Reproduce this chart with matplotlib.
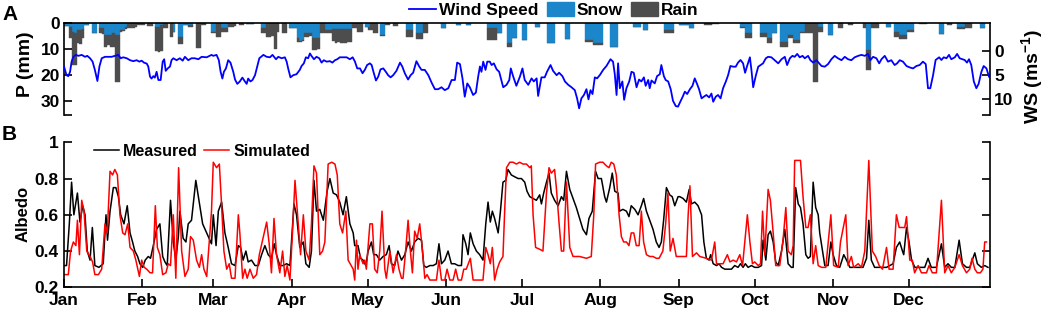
import matplotlib
matplotlib.use('Agg')
import matplotlib.pyplot as plt
from matplotlib.lines import Line2D
from matplotlib.patches import Patch

# ---------------- data (day of year, 0 = 1 Jan) ----------------
month_start = [0, 31, 59, 90, 120, 151, 181, 212, 243, 273, 304, 334]
month_label = ['Jan', 'Feb', 'Mar', 'Apr', 'May', 'Jun', 'Jul', 'Aug', 'Sep', 'Oct', 'Nov', 'Dec']

precip_day = [0, 1, 2, 3, 4, 5, 6, 7, 8, 9, 11, 12, 14, 15, 16, 17, 18, 19, 20, 21, 22, 23, 24, 25,
              26, 27, 28, 29, 30, 31, 33, 34, 36, 37, 38, 39, 40, 42, 43, 45, 46, 47, 48, 49, 50,
              52, 53, 54, 55, 58, 59, 60, 61, 62, 63, 64, 65, 66, 67, 69, 70, 72, 73, 74, 78, 79,
              80, 81, 82, 83, 84, 86, 87, 89, 90, 91, 92, 93, 94, 95, 96, 97, 98, 99, 100, 101, 102,
              103, 104, 105, 106, 107, 108, 109, 110, 111, 112, 113, 114, 115, 116, 117, 119, 120,
              121, 122, 123, 125, 126, 127, 128, 130, 131, 135, 136, 137, 139, 140, 141, 142, 143,
              149, 150, 155, 156, 159, 160, 167, 168, 169, 170, 171, 172, 175, 176, 177, 178, 181,
              182, 186, 187, 191, 192, 193, 198, 199, 206, 207, 208, 209, 210, 211, 212, 216, 217,
              218, 225, 226, 227, 229, 230, 237, 238, 239, 240, 243, 244, 245, 246, 247, 248, 253,
              254, 255, 256, 257, 258, 267, 268, 269, 270, 271, 275, 276, 277, 278, 279, 280, 281,
              283, 284, 285, 286, 287, 288, 289, 290, 291, 292, 293, 294, 295, 296, 297, 298, 299,
              302, 303, 306, 307, 310, 311, 316, 317, 318, 319, 320, 321, 325, 326, 328, 329, 330,
              331, 332, 333, 334, 335, 338, 339, 340, 346, 347, 349, 350, 353, 354, 355, 356, 357,
              358, 362, 363]
snow_mm = [1.2, 1.3, 1.5, 3.5, 4.0, 3.0, 3.0, 2.5, 1.0, 1.0, 4.1, 4.0, 2.2, 2.2, 4.7, 4.7, 4.7, 4.0,
           4.7, 4.7, 3.0, 2.8, 1.5, 0.5, 0, 0, 0, 0, 0, 0, 0, 0, 1.5, 1.5, 1.0, 0, 0, 0, 3.5, 5.4,
           5.4, 0.9, 0.9, 1.0, 1.0, 0, 0, 0, 0, 3.5, 3.5, 0, 0, 2.2, 2.2, 2.0, 0, 0, 0, 0, 0, 0.5,
           0.5, 0.5, 2.2, 2.2, 0, 0, 0, 0, 0, 0, 0, 2.2, 2.2, 2.2, 6.0, 7.0, 6.5, 4.1, 4.1, 4.0,
           6.0, 6.0, 6.0, 0, 0, 2.8, 2.8, 2.8, 2.6, 2.6, 2.6, 2.6, 2.6, 2.6, 2.6, 2.6, 0, 0, 0, 0,
           1.5, 1.5, 0, 0, 0, 4.7, 4.7, 0, 0, 0, 0, 2.8, 2.8, 2.8, 4.1, 4.1, 4.1, 0, 0, 2.2, 2.2,
           0.9, 0.9, 0.9, 0.9, 2.2, 2.2, 2.2, 2.2, 4.1, 4.1, 8.0, 8.0, 6.0, 6.0, 6.7, 6.7, 1.5, 1.5,
           8.0, 8.0, 8.0, 6.4, 6.4, 6.7, 6.7, 6.7, 8.0, 8.0, 8.0, 8.0, 9.2, 9.2, 9.2, 1.5, 1.5,
           1.5, 2.8, 2.8, 2.8, 2.8, 2.8, 2.8, 0.9, 0.9, 0.9, 0.9, 2.2, 2.2, 0, 0, 0, 0, 0, 0, 1.5,
           1.5, 4.1, 4.1, 4.1, 4.1, 4.1, 4.1, 6.0, 6.0, 4.1, 4.1, 7.3, 7.3, 7.3, 4.7, 4.7, 6.7,
           6.7, 6.7, 3.5, 3.5, 0, 0, 0, 0, 0, 1.5, 1.5, 4.7, 4.7, 0, 0, 0, 0, 0, 10.5, 10.5, 0, 0,
           0, 1.5, 1.5, 3.5, 3.5, 4.7, 4.7, 4.7, 2.8, 2.8, 2.8, 0, 0, 0, 4.4, 4.4, 0, 0, 1.5, 1.5,
           1.5, 0, 0, 0, 2.2, 2.2]
rain_mm = [0, 0, 4.5, 12.8, 12.3, 5.0, 5.2, 3.5, 0, 0, 0, 0, 1.8, 2.0, 4.5, 4.0, 4.5, 5.2, 18.0,
           18.0, 0.6, 0.5, 1.0, 1.5, 2.0, 2.0, 1.8, 1.0, 1.0, 0.8, 1.3, 1.3, 9.5, 9.7, 10.0, 2.2,
           2.2, 5.4, 0, 2.8, 2.8, 0, 0, 0.5, 0.5, 9.9, 9.9, 0.9, 0.9, 0.6, 0.6, 5.4, 5.4, 1.3, 1.3,
           1.5, 1.5, 1.5, 1.3, 0.9, 0.9, 0, 0, 0, 1.9, 1.9, 5.4, 5.4, 5.0, 10.3, 3.5, 4.1, 4.1, 0,
           0, 0, 1.3, 0.5, 0.5, 1.3, 1.3, 1.0, 4.5, 4.5, 4.0, 4.1, 4.1, 1.3, 1.3, 1.0, 4.5, 5.4,
           5.0, 5.4, 5.4, 5.4, 5.0, 4.8, 2.2, 2.2, 3.5, 3.5, 0, 1.3, 2.8, 4.1, 4.1, 0.4, 0.4, 0.9,
           0.9, 1.3, 1.3, 2.6, 2.6, 2.6, 2.3, 2.3, 2.3, 4.1, 4.1, 0, 0, 0, 0, 0, 0, 4.5, 4.5, 4.5,
           4.5, 0, 0, 1.2, 1.2, 0, 0, 0, 0, 0, 0, 0, 0, 0, 0, 0, 0.6, 0.6, 0.6, 0.6, 0.6, 0.6, 0.6,
           0, 0, 0, 0, 0, 0, 0, 0, 1.3, 1.3, 1.3, 1.3, 0, 0, 0, 0, 0, 0, 0.9, 0.9, 0.9, 0.6, 0.6,
           0.6, 0.7, 0.7, 1.9, 1.9, 1.9, 1.3, 1.3, 1.3, 1.7, 1.7, 0, 0, 1.9, 1.9, 1.9, 1.3, 1.3,
           1.3, 1.3, 1.3, 0.6, 0.6, 4.1, 4.1, 4.1, 22.7, 22.7, 2.0, 2.0, 0, 0, 2.2, 2.2, 0.9, 0.9,
           2.2, 7.7, 7.7, 2.2, 2.2, 2.2, 0, 0, 1.9, 1.9, 1.7, 1.7, 1.7, 0.7, 0.7, 0.7, 0.5, 0.5,
           0.5, 0, 0, 0.9, 0.9, 1.0, 1.0, 1.0, 2.2, 2.2, 2.2, 0, 0]

ws_day = [0, 1.0, 1.7, 2.4, 3.0, 3.7, 4.7, 5.7, 7.0, 8.3, 9.2, 10.3, 11.3, 12.2, 13.2, 14.0, 14.9,
          16.2, 17.5, 18.8, 20.1, 21.5, 22.4, 23.4, 24.8, 26.1, 27.4, 28.7, 29.8, 30.7, 31.6,
          32.7, 33.3, 34.0, 34.6, 35.3, 35.9, 36.6, 37.3, 38.2, 39.0, 39.6, 40.2, 41.0, 41.9,
          42.5, 43.2, 44.5, 45.8, 46.9, 47.8, 49.1, 50.4, 51.7, 53.1, 54.4, 56.4, 58.3, 59.0,
          60.3, 61.2, 61.9, 62.6, 63.2, 64.0, 64.9, 65.8, 66.9, 67.6, 68.5, 69.5, 70.5, 71.5,
          72.2, 72.8, 73.7, 74.5, 75.5, 76.4, 77.2, 78.8, 80.1, 81.4, 82.4, 83.8, 84.7, 86.0,
          87.3, 88.0, 88.6, 89.5, 90.6, 91.9, 93.2, 93.9, 94.8, 95.6, 96.5, 97.2, 97.8, 98.8,
          99.8, 100.9, 101.8, 102.7, 103.8, 105.1, 106.1, 107.1, 108.0, 109.0, 110.4, 111.7,
          113.0, 114.1, 115.0, 115.9, 117.0, 118.0, 118.9, 119.8, 120.9, 121.6, 122.2, 123.3,
          124.2, 125.1, 126.2, 127.2, 128.1, 129.1, 130.1, 131.4, 132.8, 133.7, 134.7, 136.0,
          137.0, 138.0, 139.3, 140.4, 141.3, 142.6, 144.0, 145.3, 146.6, 147.9, 149.2, 150.5,
          151.9, 153.2, 154.5, 155.4, 156.5, 157.5, 158.4, 159.4, 160.4, 161.7, 162.8, 163.7,
          164.4, 165.0, 165.7, 166.6, 167.3, 168.3, 169.0, 169.9, 171.0, 172.0, 173.6, 174.9,
          176.0, 176.6, 177.5, 178.8, 180.2, 181.2, 182.1, 183.5, 184.8, 185.7, 186.8, 187.4,
          188.7, 190.0, 190.9, 192.3, 193.3, 194.7, 195.7, 197.0, 198.0, 199.3, 200.6, 201.9,
          202.8, 203.6, 204.5, 205.5, 206.5, 207.3, 208.1, 208.9, 209.8, 210.7, 211.8, 213.1,
          214.4, 216.0, 217.0, 217.7, 218.4, 219.0, 219.7, 220.7, 221.4, 222.3, 223.4, 224.3,
          225.2, 226.3, 227.3, 228.2, 229.2, 229.9, 230.9, 231.5, 232.2, 233.5, 234.4, 235.5,
          236.1, 237.1, 237.8, 238.8, 239.8, 240.7, 241.8, 242.7, 243.4, 244.5, 245.4, 246.3,
          247.4, 248.4, 249.3, 250.2, 251.0, 252.0, 252.9, 253.9, 255.0, 255.9, 256.6, 257.6,
          258.5, 259.5, 260.5, 261.6, 262.5, 263.4, 264.5, 265.5, 266.4, 267.4, 268.4, 269.2,
          270.0, 271.1, 271.7, 272.4, 273.4, 274.4, 275.3, 276.3, 277.4, 278.3, 279.6, 280.9,
          282.3, 283.6, 284.9, 285.8, 286.9, 287.9, 288.8, 289.8, 290.8, 291.9, 292.8, 294.1,
          295.0, 296.1, 297.4, 298.5, 299.4, 300.7, 302.0, 303.3, 304.6, 305.9, 307.3, 308.6,
          309.9, 311.2, 312.5, 313.9, 315.2, 316.5, 317.8, 318.7, 319.8, 321.1, 322.2, 323.1,
          324.4, 325.7, 327.0, 328.3, 329.3, 330.3, 331.6, 333.0, 334.3, 335.6, 336.9, 338.2,
          339.5, 340.6, 341.5, 342.4, 343.5, 344.5, 345.9, 346.8, 347.7, 348.8, 349.8, 350.7,
          352.1, 353.0, 354.0, 355.1, 356.0, 356.9, 357.7, 358.6, 359.6, 360.6, 361.5, 362.6,
          363.5, 364.6, 365.6]
ws_val = [3.2, 5.0, 5.2, 4.3, 2.2, 1.2, 0.8, 1.0, 0.8, 1.2, 1.0, 1.5, 2.2, 3.9, 6.2, 3.2, 1.5, 1.2,
          1.2, 1.2, 1.0, 0.8, 1.5, 1.3, 1.5, 1.9, 2.1, 1.9, 2.2, 2.0, 2.4, 2.6, 3.2, 5.3, 5.7,
          5.2, 5.5, 4.3, 6.0, 6.0, 2.2, 1.7, 4.1, 3.6, 3.2, 1.9, 1.5, 1.9, 1.5, 2.0, 1.2, 1.9,
          1.5, 1.5, 1.7, 1.2, 1.3, 0.8, 1.0, 0.8, 1.9, 4.3, 5.7, 4.3, 3.6, 1.9, 2.4, 4.3, 5.9,
          6.8, 6.3, 5.5, 6.3, 6.8, 5.7, 6.3, 6.0, 5.0, 3.1, 1.5, 0.8, 1.2, 1.3, 0.8, 1.7, 1.2,
          1.5, 1.3, 2.2, 3.6, 5.45, 5.0, 4.8, 3.9, 3.1, 2.55, 1.3, 1.5, 0.5, 1.0, 1.7, 1.2, 1.5,
          2.4, 1.9, 2.2, 2.1, 2.4, 1.9, 1.7, 1.3, 1.3, 1.3, 1.7, 1.3, 2.2, 3.6, 3.6, 4.6, 3.9,
          2.9, 2.55, 2.9, 4.1, 6.1, 5.3, 3.8, 3.6, 4.3, 5.0, 5.45, 5.0, 4.1, 2.4, 3.2, 4.6, 5.9,
          5.0, 4.5, 2.1, 3.2, 3.9, 3.9, 5.0, 6.55, 7.9, 7.9, 7.5, 8.1, 7.7, 6.0, 6.0, 2.4, 2.7,
          5.66, 9.45, 6.7, 7.5, 9.1, 8.6, 5.3, 3.2, 4.3, 2.2, 3.9, 2.2, 2.2, 2.9, 2.55, 3.8, 4.3,
          7.5, 7.0, 6.0, 3.6, 5.2, 7.2, 5.3, 3.6, 6.0, 7.0, 5.66, 6.3, 5.66, 9.3, 5.45, 5.45,
          4.3, 2.9, 4.1, 5.0, 4.5, 5.2, 6.3, 7.0, 7.5, 8.1, 9.8, 11.86, 9.8, 9.1, 7.9, 10.0, 8.1,
          8.9, 5.45, 5.66, 4.97, 3.9, 3.1, 1.7, 2.2, 4.8, 9.1, 2.55, 7.7, 6.3, 10.1, 7.7, 6.3,
          4.3, 4.5, 7.5, 5.9, 6.3, 5.45, 7.2, 6.0, 7.7, 6.1, 6.7, 5.2, 4.8, 2.9, 5.2, 6.0, 6.3,
          7.9, 10.3, 11.4, 11.5, 10.7, 9.5, 8.4, 8.9, 7.9, 7.2, 5.66, 6.8, 7.9, 9.8, 9.45, 9.1,
          9.6, 8.8, 10.5, 9.45, 9.1, 9.8, 7.7, 6.3, 4.97, 3.1, 3.24, 3.24, 2.4, 1.86, 2.55, 4.5,
          3.1, 1.3, 3.9, 7.5, 5.17, 3.24, 2.9, 2.55, 1.5, 1.2, 1.3, 1.9, 2.55, 1.7, 1.2, 2.9,
          1.5, 1.0, 1.2, 0.6, 1.3, 1.0, 1.5, 1.0, 1.9, 2.4, 1.9, 2.55, 3.1, 3.24, 2.7, 1.7, 1.0,
          1.5, 1.9, 1.2, 1.7, 1.9, 1.3, 1.0, 0.8, 1.0, 0.6, 1.9, 1.2, 1.5, 2.55, 1.7, 1.0, 2.2,
          1.9, 2.9, 2.55, 1.9, 2.2, 3.1, 3.4, 3.6, 3.1, 2.9, 2.2, 2.7, 7.7, 7.7, 5.0, 1.86, 1.3,
          1.86, 1.3, 1.5, 0.8, 1.7, 1.3, 0.6, 1.5, 1.7, 1.86, 2.4, 1.7, 2.9, 6.3, 7.7, 6.8, 4.3,
          3.1, 3.6, 5.3]

meas_day = [0, 1.0, 2.1, 3.0, 3.9, 5.3, 6.3, 7.4, 8.3, 9.2, 10.3, 11.2, 12.2, 13.8, 15.5, 16.6,
            17.2, 18.2, 19.5, 20.5, 21.5, 22.4, 23.7, 25.0, 26.1, 27.1, 28.0, 29.1, 30.0, 31.1,
            32.1, 33.3, 34.2, 35.3, 36.6, 37.9, 39.0, 39.9, 40.8, 42.1, 43.2, 44.2, 45.2, 45.8,
            47.1, 48.2, 49.1, 50.4, 52.1, 53.7, 54.8, 56.4, 58.3, 59.0, 60.1, 61.0, 62.3, 63.6,
            64.9, 66.2, 67.6, 68.9, 69.8, 70.8, 71.9, 72.8, 74.1, 75.5, 76.8, 78.1, 79.4, 80.7,
            82.0, 83.1, 84.0, 85.3, 86.6, 88.0, 89.3, 90.9, 91.9, 93.2, 94.6, 95.6, 96.9, 97.8,
            98.8, 99.8, 101.1, 102.5, 104.0, 105.1, 106.4, 107.7, 109.0, 110.3, 111.6, 113.0,
            114.3, 114.9, 116.2, 117.2, 118.2, 119.3, 120.2, 121.5, 122.4, 123.5, 124.8, 126.1,
            127.4, 128.5, 129.4, 130.7, 132.0, 133.4, 134.7, 136.0, 137.3, 138.6, 139.9, 141.3,
            142.2, 143.2, 144.6, 145.9, 147.2, 148.2, 149.2, 150.5, 151.8, 153.1, 154.4, 155.8,
            157.1, 157.7, 158.8, 159.7, 160.6, 161.7, 163.0, 164.3, 165.6, 166.7, 167.6, 168.5,
            169.3, 170.2, 171.6, 172.5, 173.5, 174.6, 175.5, 176.8, 178.1, 179.5, 180.8, 182.1,
            183.0, 184.1, 185.4, 186.7, 188.0, 188.7, 189.6, 190.7, 191.7, 192.6, 193.9, 195.3,
            196.6, 197.5, 198.6, 199.9, 201.2, 202.5, 203.8, 205.1, 206.5, 207.5, 208.8, 210.1,
            211.1, 212.4, 213.7, 214.4, 215.7, 216.7, 217.7, 219.0, 219.6, 220.9, 222.3, 223.3,
            224.2, 225.6, 226.9, 228.2, 229.1, 230.2, 231.5, 232.8, 234.1, 235.2, 236.1, 237.0,
            238.1, 239.4, 240.4, 241.4, 242.7, 243.4, 244.7, 246.0, 247.1, 248.0, 249.3, 250.6,
            252.0, 252.9, 253.9, 255.0, 255.6, 256.6, 257.9, 258.9, 259.9, 261.2, 262.5, 263.8,
            265.1, 266.4, 267.4, 268.4, 269.3, 270.4, 271.7, 273.0, 274.4, 275.7, 276.3, 277.4,
            278.3, 279.2, 280.3, 281.3, 282.3, 283.6, 284.9, 286.2, 287.5, 288.2, 289.2, 290.2,
            291.1, 292.1, 293.2, 294.1, 295.0, 296.1, 297.1, 298.1, 298.7, 299.8, 300.7, 302.0,
            303.1, 304.0, 305.3, 306.6, 308.2, 309.3, 310.6, 311.9, 313.9, 315.8, 317.2, 318.1,
            319.1, 320.4, 322.4, 325.1, 327.7, 329.0, 330.3, 331.4, 331.9, 333.0, 334.0, 335.0,
            336.3, 338.2, 340.2, 341.5, 342.8, 344.8, 346.8, 348.1, 349.4, 350.7, 352.1, 353.8,
            355.1, 356.7, 358.0, 360.0, 361.0, 362.6, 363.9, 365.2]
meas_alb = [0.32, 0.32, 0.55, 0.78, 0.6, 0.72, 0.56, 0.65, 0.6, 0.4, 0.35, 0.53, 0.32, 0.31, 0.33,
            0.6, 0.46, 0.62, 0.75, 0.75, 0.7, 0.6, 0.55, 0.65, 0.5, 0.45, 0.4, 0.37, 0.33, 0.31,
            0.35, 0.37, 0.36, 0.43, 0.52, 0.55, 0.37, 0.34, 0.32, 0.68, 0.45, 0.35, 0.48, 0.62,
            0.47, 0.45, 0.55, 0.57, 0.79, 0.65, 0.55, 0.5, 0.44, 0.6, 0.43, 0.62, 0.67, 0.5, 0.42,
            0.33, 0.32, 0.43, 0.42, 0.35, 0.4, 0.34, 0.35, 0.32, 0.32, 0.38, 0.43, 0.38, 0.36,
            0.44, 0.38, 0.32, 0.32, 0.33, 0.32, 0.66, 0.6, 0.42, 0.45, 0.33, 0.31, 0.4, 0.79,
            0.62, 0.63, 0.57, 0.73, 0.8, 0.72, 0.71, 0.67, 0.6, 0.7, 0.55, 0.5, 0.43, 0.43, 0.36,
            0.35, 0.32, 0.4, 0.45, 0.38, 0.38, 0.35, 0.37, 0.38, 0.43, 0.33, 0.32, 0.4, 0.35,
            0.38, 0.45, 0.4, 0.45, 0.47, 0.46, 0.32, 0.31, 0.32, 0.32, 0.33, 0.44, 0.33, 0.35,
            0.4, 0.33, 0.33, 0.32, 0.32, 0.49, 0.44, 0.38, 0.5, 0.44, 0.4, 0.38, 0.35, 0.55, 0.67,
            0.56, 0.62, 0.58, 0.5, 0.62, 0.78, 0.79, 0.85, 0.82, 0.81, 0.8, 0.8, 0.78, 0.73, 0.7,
            0.69, 0.68, 0.71, 0.66, 0.72, 0.78, 0.83, 0.72, 0.68, 0.65, 0.7, 0.68, 0.84, 0.74,
            0.69, 0.64, 0.58, 0.52, 0.49, 0.58, 0.62, 0.84, 0.8, 0.8, 0.7, 0.67, 0.75, 0.83, 0.73,
            0.72, 0.62, 0.63, 0.62, 0.59, 0.65, 0.63, 0.6, 0.65, 0.69, 0.62, 0.57, 0.52, 0.45,
            0.42, 0.45, 0.57, 0.75, 0.71, 0.7, 0.65, 0.7, 0.7, 0.69, 0.67, 0.74, 0.66, 0.67, 0.65,
            0.6, 0.45, 0.36, 0.35, 0.38, 0.33, 0.32, 0.33, 0.31, 0.3, 0.3, 0.3, 0.32, 0.31, 0.33,
            0.31, 0.33, 0.31, 0.32, 0.31, 0.31, 0.32, 0.46, 0.35, 0.49, 0.51, 0.45, 0.34, 0.32,
            0.4, 0.52, 0.33, 0.31, 0.31, 0.75, 0.66, 0.64, 0.55, 0.38, 0.36, 0.37, 0.78, 0.64,
            0.6, 0.5, 0.4, 0.32, 0.32, 0.45, 0.38, 0.32, 0.31, 0.38, 0.35, 0.31, 0.31, 0.31, 0.31,
            0.36, 0.57, 0.35, 0.31, 0.31, 0.31, 0.33, 0.42, 0.45, 0.4, 0.38, 0.53, 0.45, 0.35,
            0.31, 0.31, 0.31, 0.36, 0.31, 0.31, 0.44, 0.31, 0.33, 0.31, 0.31, 0.46, 0.33, 0.31,
            0.31, 0.39, 0.33, 0.31, 0.32, 0.31]

sim_day = [0, 1.7, 2.6, 3.7, 4.7, 5.3, 6.1, 7.0, 7.9, 9.0, 10.3, 11.3, 12.2, 13.6, 14.9, 16.2,
           17.1, 18.2, 19.2, 20.1, 21.1, 22.1, 23.2, 24.1, 25.2, 26.1, 27.4, 28.4, 29.8, 30.7,
           31.7, 32.7, 34.0, 35.0, 36.1, 36.9, 37.9, 39.0, 40.3, 41.2, 42.1, 43.2, 44.2, 45.3,
           46.5, 47.8, 49.1, 50.0, 51.1, 52.4, 53.5, 54.4, 55.3, 56.4, 57.4, 58.3, 59.0, 60.3,
           61.4, 62.3, 63.2, 64.3, 65.3, 66.2, 67.6, 68.9, 69.5, 70.6, 71.5, 72.4, 73.5, 74.8,
           76.1, 77.2, 78.8, 80.1, 81.1, 82.0, 83.0, 84.0, 85.3, 86.4, 87.3, 88.2, 89.3, 90.3,
           91.3, 92.6, 93.5, 94.6, 95.6, 96.9, 97.8, 98.8, 99.8, 101.1, 102.2, 103.1, 104.4,
           105.8, 107.1, 108.0, 109.0, 110.1, 111.4, 112.3, 114.3, 114.9, 115.6, 116.2, 116.9,
           118.2, 118.9, 119.5, 120.9, 121.9, 122.8, 123.8, 124.8, 125.7, 126.8, 127.4, 128.8,
           130.1, 131.4, 132.4, 133.4, 134.0, 134.9, 136.0, 136.9, 137.7, 138.6, 139.6, 140.6,
           141.7, 142.6, 143.5, 144.6, 147.2, 148.2, 149.2, 150.5, 151.4, 152.5, 153.8, 154.8,
           155.8, 157.1, 158.0, 159.0, 160.6, 161.7, 165.6, 166.7, 167.6, 168.5, 169.3, 170.2,
           171.2, 172.2, 173.5, 174.2, 174.9, 176.2, 177.5, 178.8, 180.1, 181.4, 182.8, 184.1,
           184.7, 185.4, 186.4, 188.0, 189.3, 190.7, 191.7, 192.6, 193.9, 194.6, 195.7, 196.6,
           197.5, 198.6, 199.9, 201.2, 203.8, 206.5, 208.4, 209.4, 210.1, 211.7, 213.0, 214.4,
           215.4, 216.3, 217.3, 218.3, 219.4, 220.3, 221.2, 222.3, 223.3, 224.2, 225.2, 226.2,
           227.3, 228.2, 229.1, 230.2, 231.5, 232.8, 234.1, 235.2, 236.7, 237.8, 238.7, 239.6,
           240.7, 242.0, 243.4, 246.0, 246.7, 247.4, 248.4, 250.0, 251.3, 253.9, 255.9, 257.2,
           257.9, 260.5, 262.2, 263.2, 264.5, 265.8, 267.1, 268.2, 269.1, 270.1, 271.1, 272.1,
           273.0, 274.4, 275.3, 276.1, 277.0, 278.3, 279.2, 280.3, 281.3, 282.9, 284.2, 285.3,
           286.2, 287.5, 288.2, 288.8, 290.2, 291.1, 292.1, 293.2, 294.1, 295.0, 296.1, 297.1,
           298.1, 299.4, 301.1, 303.1, 304.2, 306.0, 306.9, 309.0, 309.9, 311.2, 312.1, 313.9,
           315.2, 316.5, 318.1, 319.5, 320.8, 322.2, 323.5, 325.1, 326.1, 327.7, 329.0, 330.1,
           331.4, 332.3, 333.0, 334.3, 335.3, 336.2, 337.6, 338.9, 340.9, 341.9, 343.2, 344.8,
           346.8, 348.1, 349.4, 350.7, 352.1, 353.8, 355.1, 356.7, 358.0, 358.9, 360.0, 361.0,
           362.2, 363.2, 363.9, 364.6]
sim_alb = [0.27, 0.27, 0.4, 0.45, 0.43, 0.57, 0.38, 0.68, 0.62, 0.4, 0.37, 0.34, 0.27, 0.27, 0.3,
           0.55, 0.5, 0.84, 0.82, 0.85, 0.82, 0.6, 0.5, 0.49, 0.55, 0.42, 0.4, 0.35, 0.26, 0.35,
           0.31, 0.3, 0.28, 0.28, 0.65, 0.42, 0.38, 0.27, 0.28, 0.33, 0.32, 0.6, 0.25, 0.86, 0.4,
           0.26, 0.3, 0.48, 0.46, 0.35, 0.31, 0.38, 0.3, 0.26, 0.45, 0.62, 0.89, 0.86, 0.88, 0.65,
           0.4, 0.3, 0.33, 0.25, 0.25, 0.6, 0.5, 0.25, 0.3, 0.25, 0.3, 0.25, 0.27, 0.38, 0.48,
           0.56, 0.44, 0.28, 0.58, 0.38, 0.28, 0.4, 0.26, 0.32, 0.24, 0.5, 0.79, 0.55, 0.38, 0.6,
           0.4, 0.35, 0.55, 0.87, 0.83, 0.38, 0.4, 0.45, 0.88, 0.89, 0.88, 0.82, 0.55, 0.5, 0.62,
           0.35, 0.3, 0.24, 0.46, 0.3, 0.38, 0.33, 0.35, 0.3, 0.55, 0.55, 0.3, 0.28, 0.4, 0.62,
           0.3, 0.25, 0.4, 0.28, 0.38, 0.3, 0.25, 0.25, 0.38, 0.57, 0.4, 0.28, 0.51, 0.47, 0.55,
           0.4, 0.25, 0.27, 0.24, 0.24, 0.35, 0.24, 0.24, 0.3, 0.24, 0.24, 0.3, 0.24, 0.24, 0.3,
           0.3, 0.36, 0.24, 0.24, 0.42, 0.38, 0.33, 0.42, 0.24, 0.3, 0.34, 0.37, 0.63, 0.86, 0.89,
           0.89, 0.88, 0.89, 0.88, 0.88, 0.86, 0.87, 0.6, 0.42, 0.41, 0.4, 0.72, 0.86, 0.83, 0.85,
           0.75, 0.55, 0.4, 0.4, 0.78, 0.42, 0.37, 0.37, 0.36, 0.37, 0.6, 0.88, 0.89, 0.89, 0.87,
           0.86, 0.89, 0.88, 0.82, 0.6, 0.48, 0.45, 0.45, 0.43, 0.5, 0.5, 0.43, 0.43, 0.62, 0.45,
           0.38, 0.37, 0.37, 0.36, 0.36, 0.4, 0.55, 0.72, 0.4, 0.47, 0.37, 0.37, 0.37, 0.6, 0.76,
           0.37, 0.39, 0.37, 0.36, 0.35, 0.45, 0.33, 0.33, 0.38, 0.34, 0.35, 0.34, 0.38, 0.32,
           0.45, 0.6, 0.45, 0.33, 0.34, 0.32, 0.33, 0.62, 0.38, 0.74, 0.68, 0.5, 0.32, 0.32, 0.46,
           0.64, 0.4, 0.38, 0.43, 0.9, 0.9, 0.9, 0.7, 0.53, 0.53, 0.6, 0.33, 0.43, 0.32, 0.31,
           0.31, 0.6, 0.32, 0.31, 0.45, 0.6, 0.32, 0.37, 0.31, 0.33, 0.31, 0.4, 0.9, 0.4, 0.37,
           0.32, 0.3, 0.42, 0.3, 0.3, 0.6, 0.53, 0.53, 0.53, 0.59, 0.35, 0.35, 0.28, 0.32, 0.28,
           0.28, 0.32, 0.28, 0.28, 0.68, 0.28, 0.32, 0.28, 0.31, 0.38, 0.32, 0.28, 0.3, 0.36, 0.3,
           0.28, 0.28, 0.3, 0.45, 0.45]

# ---------------- style ----------------
plt.rcParams['font.family'] = ['Liberation Sans', 'DejaVu Sans']
plt.rcParams['font.weight'] = 'bold'
plt.rcParams['axes.labelweight'] = 'bold'
plt.rcParams['mathtext.fontset'] = 'custom'
plt.rcParams['mathtext.rm'] = 'Liberation Sans:bold'
plt.rcParams['mathtext.it'] = 'Liberation Sans:bold'
plt.rcParams['mathtext.bf'] = 'Liberation Sans:bold'

SNOW = '#1B86C9'
RAIN = '#4D4D4D'
WIND = '#0000FF'
TICK_FS = 12.5
SPINE_W = 1.2

W, H = 1045, 315
fig = plt.figure(figsize=(W / 100, H / 100), dpi=100)


def rect(l, t, r, b):
    return [l / W, 1 - b / H, (r - l) / W, (b - t) / H]


# ---------------- panel A ----------------
axA = fig.add_axes(rect(64, 22.7, 990, 115))
axA.bar(precip_day, snow_mm, width=1.0, align='edge', color=SNOW, edgecolor=SNOW, linewidth=0.3)
axA.bar(precip_day, rain_mm, width=1.0, align='edge', bottom=snow_mm, color=RAIN,
        edgecolor=RAIN, linewidth=0.3)
axA.set_xlim(0, 366)
axA.set_ylim(35.56, 0)
axA.set_yticks([0, 10, 20, 30])
axA.set_yticks([35.56], minor=True)
axA.set_xticks([])
axA.spines['bottom'].set_visible(False)
axA.spines['right'].set_visible(False)
for s in ['top', 'left']:
    axA.spines[s].set_linewidth(SPINE_W)
axA.tick_params(axis='y', which='both', direction='in', length=6, width=SPINE_W,
                labelsize=TICK_FS, pad=3)

axW = axA.twinx()
axW.plot(ws_day, ws_val, color=WIND, lw=1.3)
axW.set_ylim(13.24, -5.86)
axW.set_yticks([0, 5, 10])
axW.set_yticks([13.24], minor=True)
axW.set_xlim(0, 366)
axW.spines['bottom'].set_visible(False)
axW.spines['left'].set_visible(False)
axW.spines['top'].set_visible(False)
axW.spines['right'].set_linewidth(SPINE_W)
axW.tick_params(axis='y', which='both', direction='in', length=6, width=SPINE_W,
                labelsize=TICK_FS, pad=3)

handlesA = [Line2D([], [], color=WIND, lw=1.3),
            Patch(facecolor=SNOW, edgecolor=SNOW),
            Patch(facecolor=RAIN, edgecolor=RAIN)]
fig.legend(handlesA, ['Wind Speed', 'Snow', 'Rain'], loc='center',
           bbox_to_anchor=(554 / W, 1 - 10 / H), ncol=3, frameon=False,
           prop={'weight': 'bold', 'size': 12.5}, handlelength=1.55, handleheight=0.9,
           handletextpad=0.2, columnspacing=0.45, borderpad=0, borderaxespad=0)

# ---------------- panel B ----------------
axB = fig.add_axes(rect(64, 142.3, 990, 287.3))
axB.plot(meas_day, meas_alb, color='black', lw=1.1, label='Measured')
axB.plot(sim_day, sim_alb, color='#FF0000', lw=1.1, label='Simulated')
axB.set_xlim(0, 366)
axB.set_ylim(0.2, 1)
axB.set_yticks([0.2, 0.4, 0.6, 0.8, 1.0])
axB.set_yticklabels(['0.2', '0.4', '0.6', '0.8', '1'])
axB.set_xticks(month_start)
axB.set_xticklabels(month_label)
axB.spines['top'].set_visible(False)
for s in ['bottom', 'left', 'right']:
    axB.spines[s].set_linewidth(SPINE_W)
axB.tick_params(axis='both', direction='in', length=6, width=SPINE_W, labelsize=TICK_FS, pad=4)
axB.tick_params(axis='y', right=True, labelright=False)
axB.legend(loc='center', bbox_to_anchor=(202 / W, 1 - 151 / H), bbox_transform=fig.transFigure,
           ncol=2, frameon=False, prop={'weight': 'bold', 'size': 11.5}, handlelength=1.6,
           handletextpad=0.25, columnspacing=0.35, borderpad=0, borderaxespad=0)

# ---------------- labels ----------------
fig.text(25 / W, 1 - 64 / H, 'P (mm)', rotation=90, ha='center', va='center',
         fontsize=14, fontweight='bold')
fig.text(1032 / W, 1 - 76 / H, 'WS (ms$^{-1}$)', rotation=90, ha='center', va='center',
         fontsize=14, fontweight='bold')
fig.text(23 / W, 1 - 214 / H, 'Albedo', rotation=90, ha='center', va='center',
         fontsize=12, fontweight='bold')
fig.text(10 / W, 1 - 14 / H, 'A', ha='center', va='center', fontsize=15, fontweight='bold')
fig.text(9 / W, 1 - 134 / H, 'B', ha='center', va='center', fontsize=15, fontweight='bold')

fig.savefig('out.png', dpi=100)
